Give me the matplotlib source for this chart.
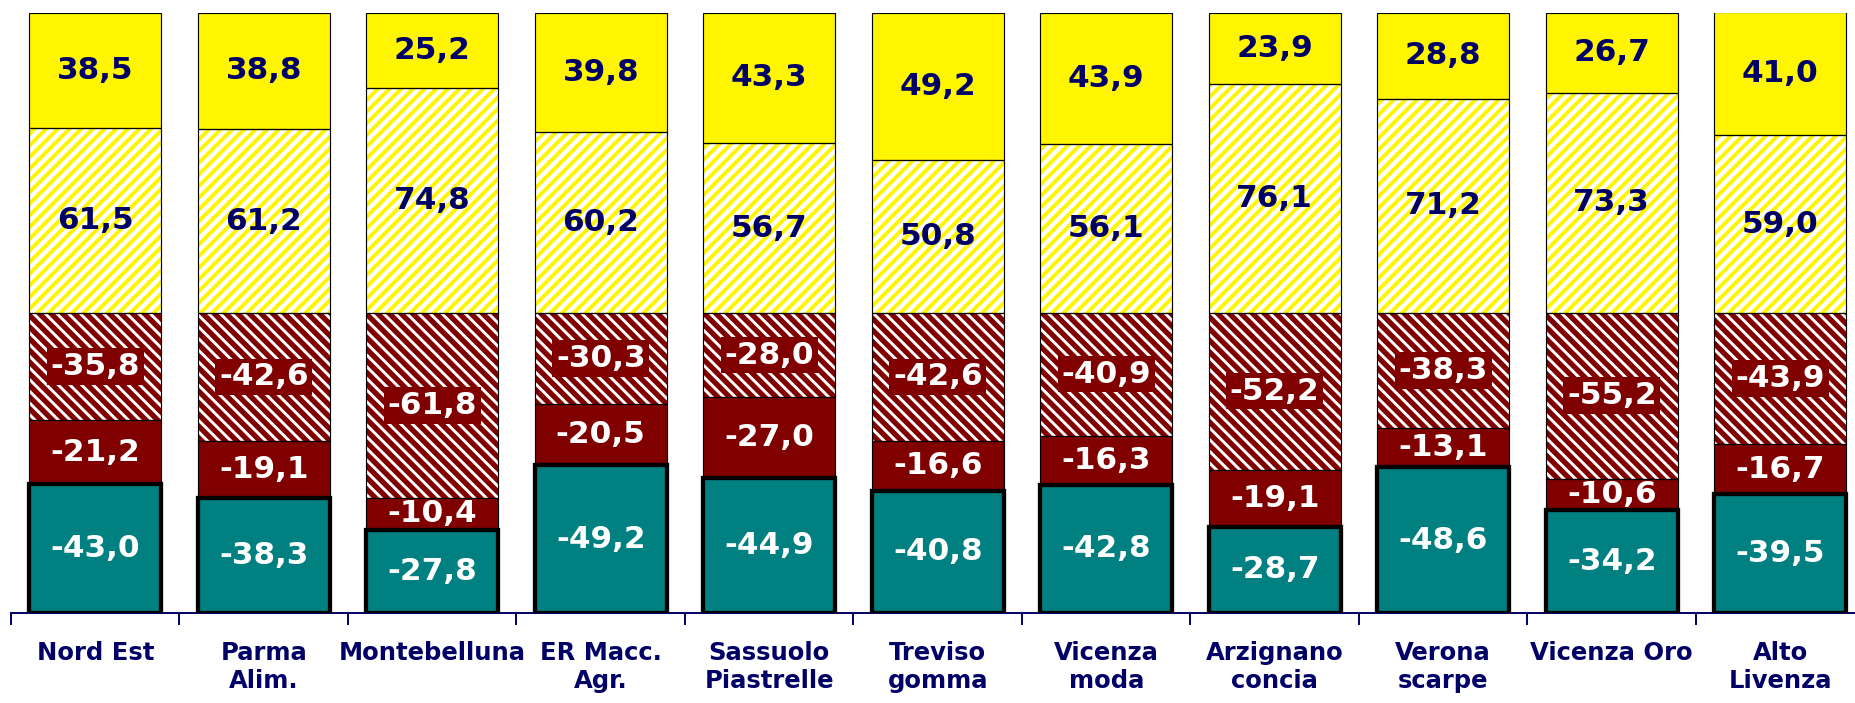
import numpy as np
import matplotlib
matplotlib.use("Agg")
import matplotlib.pyplot as plt
from matplotlib.transforms import blended_transform_factory

# dati
categorie = ["Nord Est", "Parma\nAlim.", "Montebelluna", "ER Macc.\nAgr.",
             "Sassuolo\nPiastrelle", "Treviso\ngomma", "Vicenza\nmoda",
             "Arzignano\nconcia", "Verona\nscarpe", "Vicenza Oro", "Alto\nLivenza"]
giallo = [38.5, 38.8, 25.2, 39.8, 43.3, 49.2, 43.9, 23.9, 28.8, 26.7, 41.0]
giallo_tratt = [61.5, 61.2, 74.8, 60.2, 56.7, 50.8, 56.1, 76.1, 71.2, 73.3, 59.0]
rosso_tratt = [-35.8, -42.6, -61.8, -30.3, -28.0, -42.6, -40.9, -52.2, -38.3, -55.2, -43.9]
rosso = [-21.2, -19.1, -10.4, -20.5, -27.0, -16.6, -16.3, -19.1, -13.1, -10.6, -16.7]
verde = [-43.0, -38.3, -27.8, -49.2, -44.9, -40.8, -42.8, -28.7, -48.6, -34.2, -39.5]

NAVY = "#000066"
GIALLO = "#FFF500"
ROSSO = "#800000"
VERDE = "#008080"

plt.rcParams["font.family"] = "DejaVu Sans"

DPI = 140
fig = plt.figure(figsize=(1855 / DPI, 703 / DPI), dpi=DPI)
ax = fig.add_axes([11 / 1855, 1 - 613 / 703, 1853.5 / 1855, (613 - 12.7) / 703])

x = np.arange(len(categorie))
w = 0.785

# serie dal basso verso l'alto: (valori, facecolor, hatch, colore hatch, spessore hatch, colore testo, box)
serie = [
    (verde, VERDE, None, None, 0, "white", False),
    (rosso, ROSSO, None, None, 0, "white", False),
    (rosso_tratt, ROSSO, "\\\\\\\\", "white", 1.5, "white", True),
    (giallo_tratt, "white", "////", GIALLO, 2.0, NAVY, False),
    (giallo, GIALLO, None, None, 0, NAVY, False),
]

base = np.zeros(len(categorie))
for vals, fc, hatch, hc, hlw, tc, box in serie:
    h = np.abs(np.array(vals))
    if hatch:
        plt.rcParams["hatch.linewidth"] = hlw
        bars = ax.bar(x, h, w, bottom=base, color=fc, hatch=hatch, edgecolor=hc,
                      linewidth=0, zorder=2)
        for b in bars:
            if hasattr(b, "set_hatch_linewidth"):
                b.set_hatch_linewidth(hlw)
    else:
        ax.bar(x, h, w, bottom=base, color=fc, linewidth=0, zorder=2)
    ax.bar(x, h, w, bottom=base, fill=False, edgecolor="black", linewidth=0.6, zorder=3)
    for xi, b, hi, v in zip(x, base, h, vals):
        lab = ("%.1f" % v).replace(".", ",")
        kw = {}
        if box:
            kw["bbox"] = dict(boxstyle="square,pad=0.12", fc=ROSSO, ec="none")
        ax.text(xi, b + hi / 2, lab, ha="center", va="center", color=tc,
                fontsize=16, fontweight="bold", zorder=5, **kw)
    base = base + h

# bordo spesso sulla serie verde
ax.bar(x, np.abs(np.array(verde)), w, bottom=0, fill=False, edgecolor="black",
       linewidth=2.2, zorder=4)

ax.set_xlim(-0.5, len(categorie) - 0.5)
ax.set_ylim(0, 200)
ax.set_yticks([])
for s in ["left", "right", "top"]:
    ax.spines[s].set_visible(False)
ax.spines["bottom"].set_color(NAVY)
ax.spines["bottom"].set_linewidth(1.0)
ax.spines["bottom"].set_zorder(1)

ax.set_xticks(np.arange(-0.5, len(categorie), 1.0), minor=True)
ax.tick_params(axis="x", which="minor", length=6, width=1.0, color=NAVY, direction="out")
ax.set_xticks(x)
ax.set_xticklabels([])
ax.tick_params(axis="x", which="major", length=0)

trans = blended_transform_factory(ax.transData, fig.transFigure)
for xi, c in zip(x, categorie):
    ax.text(xi, 1 - 641 / 703, c, transform=trans, ha="center", va="top",
            color=NAVY, fontsize=12.5, fontweight="bold", linespacing=1.2, clip_on=False)

fig.savefig("out.png", dpi=DPI)
